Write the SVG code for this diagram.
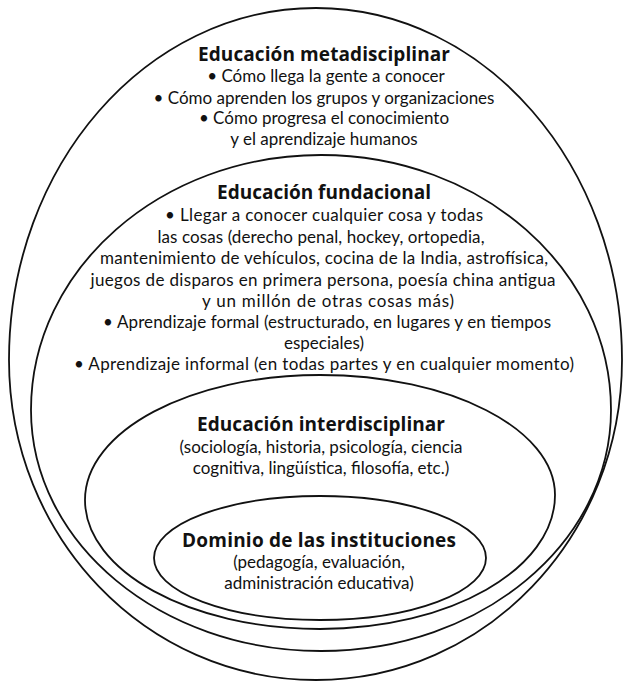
<svg xmlns="http://www.w3.org/2000/svg" width="624" height="682" viewBox="0 0 624 682">
<style>
.shape{fill:none;stroke:#111;stroke-width:1.8;stroke-linejoin:round}
text{font-family:Lato,"Open Sans","Liberation Sans",sans-serif;fill:#111;text-anchor:middle}
.t{font-family:"Open Sans",Lato,"Liberation Sans",sans-serif;font-size:19px;font-weight:bold}
.b{font-size:17px}
</style>
<rect width="624" height="682" fill="#fff"/>
<g id="connectors"></g>
<g id="meta">
<path class="shape" d="M9,360 C9,166 146,8 316,8 C485,8 622,166 622,360 C622,537 485,680 316,680 C146,680 9,537 9,360 Z"/>
<text class="t" x="324" y="61" textLength="252">Educación metadisciplinar</text>
<text class="b" x="326" y="82">• Cómo llega la gente a conocer</text>
<text class="b" x="324" y="104">• Cómo aprenden los grupos y organizaciones</text>
<text class="b" x="324" y="124">• Cómo progresa el conocimiento</text>
<text class="b" x="324" y="145">y el aprendizaje humanos</text>
</g>
<g id="fundacional">
<path class="shape" d="M31,410 C31,269 161,155 321,155 C481,155 611,269 611,410 C611,543 481,651 321,651 C161,651 31,543 31,410 Z"/>
<text class="t" x="324" y="199" textLength="214">Educación fundacional</text>
<text class="b" x="324" y="221" textLength="318">• Llegar a conocer cualquier cosa y todas</text>
<text class="b" x="321" y="243" textLength="327">las cosas (derecho penal, hockey, ortopedia,</text>
<text class="b" x="324" y="264" textLength="448">mantenimiento de vehículos, cocina de la India, astrofísica,</text>
<text class="b" x="323" y="286" textLength="465">juegos de disparos en primera persona, poesía china antigua</text>
<text class="b" x="328" y="307" textLength="252">y un millón de otras cosas más)</text>
<text class="b" x="327" y="328" textLength="448">• Aprendizaje formal (estructurado, en lugares y en tiempos</text>
<text class="b" x="324" y="349">especiales)</text>
<text class="b" x="324" y="370" textLength="500">• Aprendizaje informal (en todas partes y en cualquier momento)</text>
</g>
<g id="interdisciplinar">
<path class="shape" d="M85,500 C85,431 190,375 320,375 C450,375 555,429 555,495 C555,569 450,629 320,629 C190,629 85,571 85,500 Z"/>
<text class="t" x="321" y="431" textLength="248">Educación interdisciplinar</text>
<text class="b" x="321" y="453">(sociología, historia, psicología, ciencia</text>
<text class="b" x="321" y="474">cognitiva, lingüística, filosofía, etc.)</text>
</g>
<g id="dominio">
<ellipse class="shape" cx="320" cy="558" rx="166" ry="62"/>
<text class="t" x="319" y="547" textLength="274">Dominio de las instituciones</text>
<text class="b" x="319" y="568">(pedagogía, evaluación,</text>
<text class="b" x="319" y="589">administración educativa)</text>
</g>
</svg>
